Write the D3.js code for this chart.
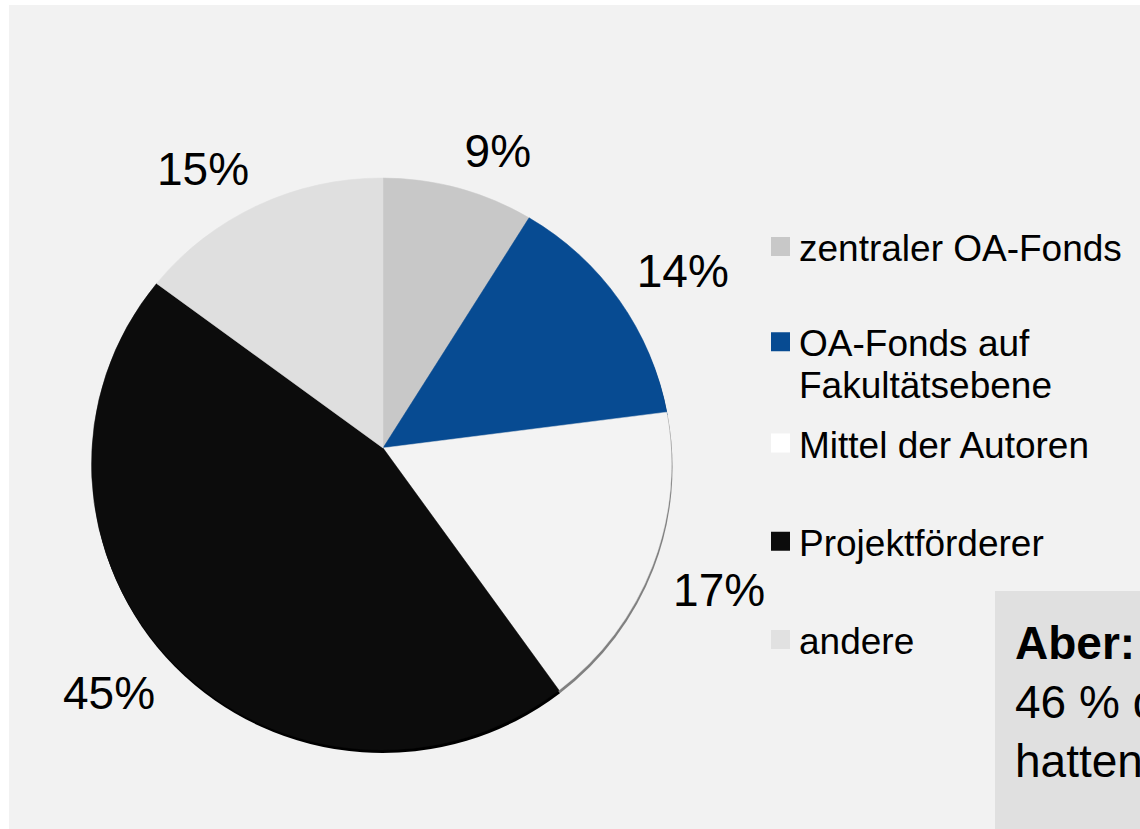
<!DOCTYPE html>
<html>
<head>
<meta charset="utf-8">
<script src="https://cdn.jsdelivr.net/npm/d3@7"></script>
<style>
  html, body { margin: 0; padding: 0; background: #ffffff; }
  svg { display: block; font-family: "Liberation Sans", Arial, sans-serif; }
</style>
</head>
<body>
<div id="chart"></div>
<script>
'use strict';

// ---------------------------------------------------------------
// data
// ---------------------------------------------------------------
var categories = ['zentraler OA-Fonds', 'OA-Fonds auf Fakultätsebene', 'Mittel der Autoren', 'Projektförderer', 'andere'];
var values = [9, 14, 17, 45, 15];
var pctLabels = ['9%', '14%', '17%', '45%', '15%'];
var colors = ['#c8c8c8', '#074b92', '#f3f3f3', '#0c0c0c', '#dfdfdf'];
var legendColors = ['#c8c8c8', '#074b92', '#ffffff', '#0c0c0c', '#e1e1e1'];
var sideColors = ['#a8a8a8', '#053466', '#808080', '#000000', '#b8b8b8'];
// legend rows, long names are wrapped
var legendLines = [['zentraler OA-Fonds'], ['OA-Fonds auf', 'Fakultätsebene'], ['Mittel der Autoren'], ['Projektförderer'], ['andere']];
var noteTitle = 'Aber:';
var noteLines = ['46 % der', 'hatten'];

var W = 1140, H = 829;

var svg = d3.select('#chart').append('svg')
  .attr('width', W)
  .attr('height', H)
  .attr('viewBox', '0 0 ' + W + ' ' + H);

// slide background (white strip top / left)
svg.append('rect')
  .attr('x', 9)
  .attr('y', 5)
  .attr('width', W - 9)
  .attr('height', H - 5)
  .style('fill', '#f2f2f2');

// pie is a slightly tilted ellipse, apex sits above its centre
var ell = { cx: 381.5, cy: 464, rx: 290, ry: 286 };
var apex = { x: 383, y: 448 };

// point where the ray from the apex at angle a (clockwise from 12 o'clock) meets the rim
function rim(a) {
  var ux = Math.sin(a), uy = -Math.cos(a);
  var dx = apex.x - ell.cx, dy = apex.y - ell.cy;
  var A = (ux * ux) / (ell.rx * ell.rx) + (uy * uy) / (ell.ry * ell.ry);
  var B = 2 * ((dx * ux) / (ell.rx * ell.rx) + (dy * uy) / (ell.ry * ell.ry));
  var C = (dx * dx) / (ell.rx * ell.rx) + (dy * dy) / (ell.ry * ell.ry) - 1;
  var t = (-B + Math.sqrt(B * B - 4 * A * C)) / (2 * A);
  return { x: apex.x + t * ux, y: apex.y + t * uy, t: t };
}

function angleAroundCentre(p) {
  var a = Math.atan2(p.x - ell.cx, -(p.y - ell.cy));
  return a < 0 ? a + 2 * Math.PI : a;
}

function slicePath(d, ox, oy) {
  var p0 = rim(d.startAngle), p1 = rim(d.endAngle);
  var a0 = angleAroundCentre(p0), a1 = angleAroundCentre(p1);
  var span = a1 - a0;
  if (span < 0) span += 2 * Math.PI;
  var large = span > Math.PI ? 1 : 0;
  ox = ox || 0; oy = oy || 0;
  return 'M' + (apex.x + ox) + ',' + (apex.y + oy) +
    'L' + (p0.x + ox) + ',' + (p0.y + oy) +
    'A' + ell.rx + ',' + ell.ry + ' 0 ' + large + ' 1 ' + (p1.x + ox) + ',' + (p1.y + oy) + 'Z';
}

var pie = d3.pie().sort(null).value(function(d) { return d; });
var arcs = pie(values);

// thin 3d rim under the pie
svg.append('g').selectAll('path.side')
  .data(arcs)
  .join('path')
  .attr('class', 'side')
  .attr('d', function(d) { return slicePath(d, 1, 3); })
  .style('fill', function(d, i) { return sideColors[i]; });

// slices
svg.append('g').selectAll('path.slice')
  .data(arcs)
  .join('path')
  .attr('class', 'slice')
  .attr('d', function(d) { return slicePath(d, 0, 0); })
  .style('fill', function(d, i) { return colors[i]; })
  .style('stroke', function(d, i) { return colors[i]; })
  .style('stroke-width', 0.5);

// percentage labels: nearest corner of the label sits just outside the rim
var pctSize = 46;
var gap = 22;
var digitH = pctSize * 0.716;
svg.append('g').selectAll('text.pct')
  .data(arcs)
  .join('text')
  .attr('class', 'pct')
  .style('font-size', pctSize + 'px')
  .style('fill', '#000000')
  .text(function(d, i) { return pctLabels[i]; })
  .each(function(d) {
    var mid = (d.startAngle + d.endAngle) / 2;
    var ux = Math.sin(mid), uy = -Math.cos(mid);
    var p = rim(mid);
    var cx = p.x + ux * gap, cy = p.y + uy * gap;
    var right = ux >= 0;
    var below = uy > 0;
    d3.select(this)
      .attr('text-anchor', right ? 'start' : 'end')
      .attr('x', cx)
      .attr('y', below ? cy + digitH : cy);
  });

// legend
var legendY = d3.scalePoint()
  .domain(d3.range(categories.length))
  .range([261, 654]);
var lgSize = 37;
var legend = svg.append('g').selectAll('g.lg')
  .data(categories)
  .join('g')
  .attr('class', 'lg')
  .attr('transform', function(d, i) {
    // wrapped entry sits a little higher
    var y = legendY(i) + (legendLines[i].length > 1 ? -3 : 0);
    return 'translate(771,' + y + ')';
  });

legend.append('rect')
  .attr('x', 0)
  .attr('y', -24)
  .attr('width', 19)
  .attr('height', 19)
  .style('fill', function(d, i) { return legendColors[i]; });

legend.append('text')
  .attr('x', 28)
  .attr('y', 0)
  .style('font-size', lgSize + 'px')
  .style('fill', '#000000')
  .selectAll('tspan')
  .data(function(d, i) { return legendLines[i]; })
  .join('tspan')
  .attr('x', 28)
  .attr('dy', function(d, j) { return j === 0 ? 0 : 42; })
  .text(function(d) { return d; });

// note box on the lower right, runs off the slide
var note = svg.append('g');
note.append('rect')
  .attr('x', 995)
  .attr('y', 591)
  .attr('width', W - 995)
  .attr('height', H - 591)
  .style('fill', '#e0e0e0');

note.append('text')
  .attr('x', 1015)
  .attr('y', 659)
  .style('font-size', '46px')
  .style('font-weight', 'bold')
  .style('fill', '#000000')
  .text(noteTitle);

note.selectAll('text.nl')
  .data(noteLines)
  .join('text')
  .attr('class', 'nl')
  .attr('x', 1015)
  .attr('y', function(d, i) { return 718 + i * 59; })
  .style('font-size', '46px')
  .style('fill', '#000000')
  .text(function(d) { return d; });
</script>
</body>
</html>
